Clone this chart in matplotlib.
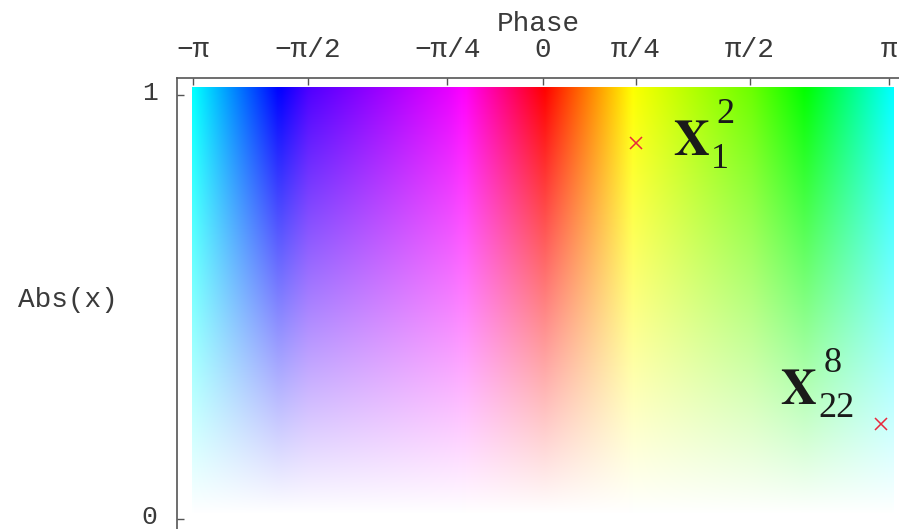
import numpy as np
import matplotlib.pyplot as plt
import matplotlib.transforms as mtransforms
from matplotlib.colors import hsv_to_rgb

plt.rcParams['mathtext.fontset'] = 'stix'

# phase axis: tick values, labels and where they sit along the (stretched) axis
tick_phase = np.array([-np.pi, -np.pi / 2, -np.pi / 4, 0.0, np.pi / 4, np.pi / 2, np.pi])
tick_labels = ['\u2212\u03c0', '\u2212\u03c0/2', '\u2212\u03c0/4', '0',
               '\u03c0/4', '\u03c0/2', '\u03c0']
tick_u = np.array([0.0, 0.165, 0.365, 0.502, 0.636, 0.800, 1.0])

# colour wheel: hue (degrees) reached at each phase
hue_phase = np.array([-np.pi, -1.98, -0.66, 0.0, 0.74, 2.17, np.pi])
hue_deg = np.array([180, 240, 300, 360, 420, 480, 540])

# marked eigenvalues and their names (base, subscript, superscript)
pt_phase = [np.pi / 4, 3.05]
pt_abs = [0.887, 0.224]
name_base = ['X', 'X']
name_sub = ['1', '22']
name_sup = ['2', '8']
name_phase = [1.04, 1.91]
name_abs = [0.858, 0.271]


def phase_to_u(ph):
    return np.interp(ph, tick_phase, tick_u)


# colour field: hue from phase, saturation from modulus
ncol, nrow = 160, 120
u = np.linspace(0, 1, ncol)
mod = np.linspace(0, 1, nrow)
ph = np.interp(u, tick_u, tick_phase)
hue = (np.interp(ph, hue_phase, hue_deg) % 360) / 360.0
H, S = np.meshgrid(hue, mod)
rgb = hsv_to_rgb(np.dstack([H, S, np.ones_like(H)]))

fig = plt.figure(figsize=(8.99, 5.29), dpi=100)
ax = fig.add_axes([177 / 899, 0, 722 / 899, 451 / 529])

ax.imshow(rgb, origin='lower', extent=(-0.002, 1.006, 0.009, 1.0165),
          aspect='auto', interpolation='bilinear')

ax.plot(phase_to_u(np.array(pt_phase)), pt_abs, 'x', color='#e8283c',
        ms=8, mew=1.1, ls='none')

serif = 'Liberation Serif'
ink = '#1a1a1a'
for b, lo, hi, xp, yp in zip(name_base, name_sub, name_sup, name_phase, name_abs):
    xy = (phase_to_u(xp), yp)
    ax.annotate(r'$\mathbf{%s}$' % b, xy, fontsize=36, color=ink,
                ha='left', va='baseline')
    ax.annotate(hi, xy, xytext=(31.5, 23), textcoords='offset points',
                fontsize=26, family=serif, color=ink, ha='left', va='baseline')
    ax.annotate(lo, xy, xytext=(27.5, -9.5), textcoords='offset points',
                fontsize=26, family=serif, color=ink, ha='left', va='baseline')

ax.set_xlim(-0.0234, 1.014)
ax.set_ylim(-0.0236, 1.040)

mono = 'Liberation Mono'
grey = '#3a3a3a'
ax.xaxis.tick_top()
ax.set_xticks(tick_u)
ax.set_xticklabels(tick_labels, family=mono, fontsize=20, color=grey)
ax.set_yticks([0, 1])
ax.set_yticklabels(['0', '1'], family=mono, fontsize=19, color=grey)
ax.tick_params(axis='x', direction='in', length=5, width=1, color='#555555', pad=11)
ax.tick_params(axis='y', direction='in', length=5, width=1, color='#555555', pad=14)

# nudge the y tick labels up a little so the bottom one stays inside the figure
lift = mtransforms.ScaledTranslation(0, 3 / 72, fig.dpi_scale_trans)
for lbl in ax.get_yticklabels():
    lbl.set_transform(lbl.get_transform() + lift)

ax.xaxis.set_label_position('top')
ax.set_xlabel('Phase', family=mono, fontsize=20, color=grey, labelpad=4)
ax.set_ylabel('Abs(x)', family=mono, fontsize=20, color=grey,
              rotation=0, ha='right', va='center')
ax.yaxis.set_label_coords(-0.082, 0.508)

for side in ('bottom', 'right'):
    ax.spines[side].set_visible(False)
for side in ('top', 'left'):
    ax.spines[side].set_color('#555555')
    ax.spines[side].set_linewidth(1.2)

fig.savefig('out.png', dpi=100)
